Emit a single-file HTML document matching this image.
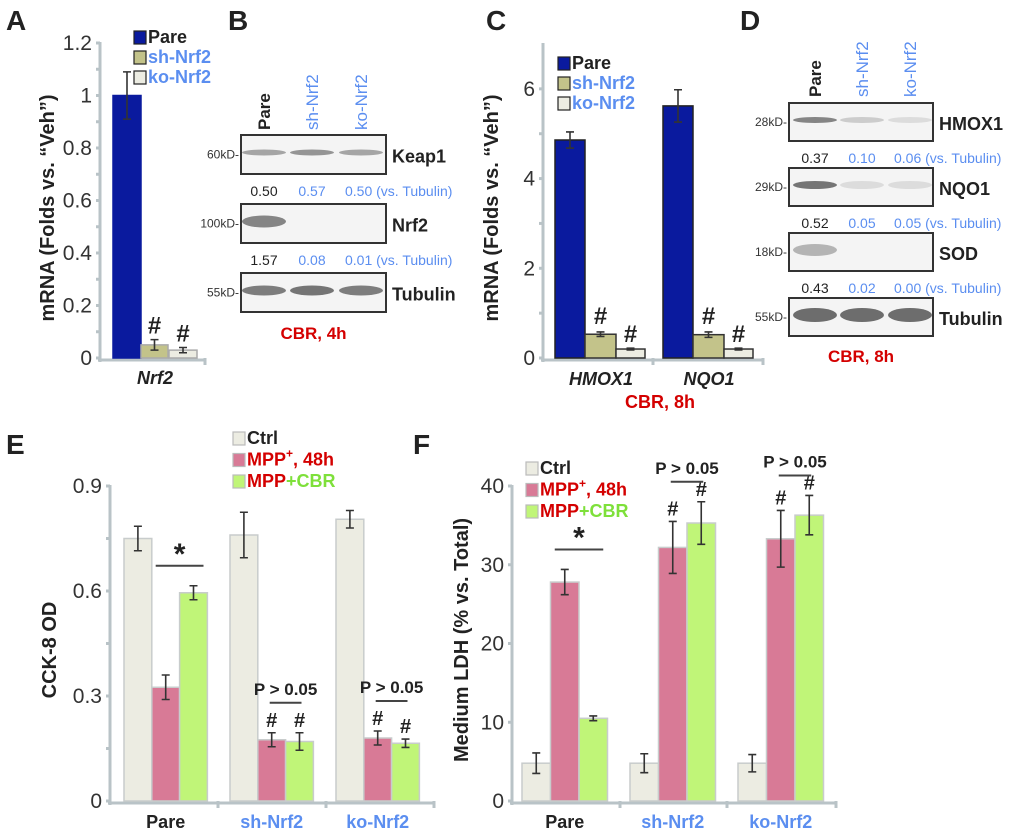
<!DOCTYPE html>
<html><head><meta charset="utf-8"><style>
html,body{margin:0;padding:0;background:#fff;}
svg{display:block;font-family:"Liberation Sans",sans-serif;}
.b{font-weight:bold}
</style></head><body>
<svg id="fig" width="1020" height="834" viewBox="0 0 1020 834">
<g id="static">
<text x="6" y="30" font-size="28" class="b" fill="#222">A</text>
<text x="228" y="30" font-size="28" class="b" fill="#222">B</text>
<text x="486" y="30" font-size="28" class="b" fill="#222">C</text>
<text x="740" y="30" font-size="28" class="b" fill="#222">D</text>
<text x="6" y="454" font-size="28" class="b" fill="#222">E</text>
<text x="413" y="454" font-size="28" class="b" fill="#222">F</text>
</g>
<g id="plots"></g>
<g id="blots"></g>
</svg>
<script>
// ---- Panel A data ----
const aCategories = ["Nrf2"];
const aPare = [1.0], aSh = [0.05], aKo = [0.03];
const aPareErr = [0.09], aShErr = [0.02], aKoErr = [0.01];
const aTicks = [0, 0.2, 0.4, 0.6, 0.8, 1, 1.2];
// ---- Panel C data ----
const cCategories = ["HMOX1", "NQO1"];
const cPare = [4.86, 5.62], cSh = [0.53, 0.52], cKo = [0.2, 0.2];
const cPareErr = [0.18, 0.36], cShErr = [0.05, 0.06], cKoErr = [0.02, 0.02];
const cTicks = [0, 2, 4, 6];
// ---- Panel E data ----
const eCategories = ["Pare", "sh-Nrf2", "ko-Nrf2"];
const eCtrl = [0.75, 0.76, 0.805], eMpp = [0.325, 0.175, 0.18], eCbr = [0.595, 0.17, 0.165];
const eCtrlErr = [0.035, 0.065, 0.025], eMppErr = [0.035, 0.02, 0.02], eCbrErr = [0.02, 0.025, 0.012];
const eTicks = ["0", "0.3", "0.6", "0.9"];
// ---- Panel F data ----
const fCategories = ["Pare", "sh-Nrf2", "ko-Nrf2"];
const fCtrl = [4.8, 4.8, 4.8], fMpp = [27.8, 32.2, 33.3], fCbr = [10.5, 35.3, 36.3];
const fCtrlErr = [1.3, 1.2, 1.1], fMppErr = [1.6, 3.3, 3.6], fCbrErr = [0.3, 2.7, 2.5];
const fTicks = [0, 10, 20, 30, 40];

const NS = "http://www.w3.org/2000/svg";
const plots = document.getElementById("plots");
function mk(tag, attrs, parent, txt) {
  const el = document.createElementNS(NS, tag);
  for (const k in attrs) el.setAttribute(k, attrs[k]);
  if (txt !== undefined) el.textContent = txt;
  (parent || plots).appendChild(el);
  return el;
}
const AX = "#b9c3c7", BLUE = "#5b8ef0", RED = "#d40000";
const catColor = c => (c === "Pare" ? "#222" : BLUE);

function axes(o) {
  const g = mk("g", {});
  
  
  const yS = v => o.y0 - (v - o.min) / (o.max - o.min) * (o.y0 - o.yTop);
  let l = mk("line", {x1: o.x0, y1: o.yTop - 1, x2: o.x0, y2: o.y0 + 4, stroke: AX, "stroke-width": 3}, g);
  
  
  l = mk("line", {x1: o.x0 - 2, y1: o.y0 + 2, x2: o.x1, y2: o.y0 + 2, stroke: AX, "stroke-width": 3}, g);
  
  
  (o.sep || []).forEach(x => mk("line", {x1: x, y1: o.y0, x2: x, y2: o.y0 + 7, stroke: AX, "stroke-width": 3}, g));
  mk("line", {x1: o.x1, y1: o.y0, x2: o.x1, y2: o.y0 + 7, stroke: AX, "stroke-width": 3}, g);
  o.ticks.forEach((t, i) => {
    const v = parseFloat(t), y = yS(v);
    mk("line", {x1: o.x0 - 4, y1: y, x2: o.x0, y2: y, stroke: AX, "stroke-width": 3}, g);
    if (o.minor && i < o.ticks.length - 1) {
      const y2 = yS(v + (parseFloat(o.ticks[1]) - parseFloat(o.ticks[0])) / 2);
      mk("line", {x1: o.x0 - 4, y1: y2, x2: o.x0, y2: y2, stroke: AX, "stroke-width": 3}, g);
    }
    const tx = mk("text", {x: o.x0 - 8, y: y + 7, "font-size": 21, "text-anchor": "end", fill: "#333"}, g, String(t));
    
    
  });
  const tt = mk("text", {x: 0, y: 0, "font-size": 20, "font-weight": "bold", fill: "#222", "text-anchor": "middle",
    transform: `translate(${o.titleX},${o.titleY}) rotate(-90)`}, g, o.title);
  
  
  return yS;
}
function bar(yS, x, w, v, e, fill, stroke, name) {
  const y = yS(v), y0 = yS(0);
  const r = mk("rect", {x: x, y: y, width: w, height: y0 - y, fill: fill, stroke: stroke, "stroke-width": 1.5});
  
  
  const cx = x + w / 2, yt = yS(v + e), yb = yS(v - e);
  const eb = mk("path", {d: `M${cx},${yt}V${yb}M${cx - 4},${yt}H${cx + 4}M${cx - 4},${yb}H${cx + 4}`, stroke: "#333", "stroke-width": 1.6, fill: "none"});
  
  
  return {cx: cx, top: yt};
}
function txt(x, y, s, size, fill, opts) {
  const a = Object.assign({x: x, y: y, "font-size": size, fill: fill}, opts || {});
  return mk("text", a, plots, s);
}
function legend(x, y, dy, items, name) {
  items.forEach((it, i) => {
    const r = mk("rect", {x: x, y: y + i * dy - 12, width: 12, height: 13, fill: it.c, stroke: it.s || "#888", "stroke-width": 1.2});
    
    
    const t = mk("text", {x: x + 14, y: y + i * dy, "font-size": 18, "font-weight": "bold", fill: it.tc});
    
    
    if (it.parts) it.parts.forEach(p => { const ts = mk("tspan", p.a || {}, t, p.t); ts.setAttribute("fill", p.f); });
    else t.textContent = it.t;
  });
}
const NAVY = "#0a1a9e", KHAKI = "#c3c38a", LIGHT = "#ecece2", PINK = "#d87a96", GREEN = "#c0f578";

// ---- Panel A ----
{
  const yS = axes({name: "panel-a", x0: 100, x1: 205, y0: 358, yTop: 43, min: 0, max: 1.2, ticks: aTicks, minor: true,
    title: "mRNA (Folds vs. \u201cVeh\u201d)", titleX: 54, titleY: 208});
  aCategories.forEach((c, i) => {
    const x = 113 + i * 100;
    bar(yS, x, 28, aPare[i], aPareErr[i], NAVY, NAVY, "bar-a-pare");
    const s = bar(yS, x + 28, 27, aSh[i], aShErr[i], KHAKI, "#aaa", "bar-a-sh");
    const k = bar(yS, x + 56, 28, aKo[i], aKoErr[i], LIGHT, "#aaa", "bar-a-ko");
    txt(s.cx, s.top - 6, "#", 24, "#222", {"text-anchor": "middle", "font-weight": "bold"});
    txt(k.cx, k.top - 6, "#", 24, "#222", {"text-anchor": "middle", "font-weight": "bold"});
    const l = txt(x + 42, 384, c, 18, "#222", {"text-anchor": "middle", "font-weight": "bold", "font-style": "italic"});
    
    
  });
  legend(134, 43, 20, [{c: NAVY, s: "#222", t: "Pare", tc: "#222"}, {c: KHAKI, s: "#222", t: "sh-Nrf2", tc: BLUE}, {c: LIGHT, s: "#222", t: "ko-Nrf2", tc: BLUE}], "legend-a");
}
// ---- Panel C ----
{
  const yS = axes({name: "panel-c", x0: 543, x1: 763, y0: 358, yTop: 44, min: 0, max: 7, ticks: cTicks, minor: true, sep: [653],
    title: "mRNA (Folds vs. \u201cVeh\u201d)", titleX: 498, titleY: 208});
  cCategories.forEach((c, i) => {
    const x = 555 + i * 108;
    bar(yS, x, 30, cPare[i], cPareErr[i], NAVY, "#222", "bar-c-pare");
    const s = bar(yS, x + 30, 31, cSh[i], cShErr[i], KHAKI, "#333", "bar-c-sh");
    const k = bar(yS, x + 61, 29, cKo[i], cKoErr[i], LIGHT, "#333", "bar-c-ko");
    txt(s.cx, s.top - 8, "#", 24, "#222", {"text-anchor": "middle", "font-weight": "bold"});
    txt(k.cx, k.top - 6, "#", 24, "#222", {"text-anchor": "middle", "font-weight": "bold"});
    const l = txt(x + 46, 385, c, 18, "#222", {"text-anchor": "middle", "font-weight": "bold", "font-style": "italic"});
    
    
  });
  txt(660, 408, "CBR, 8h", 18, RED, {"text-anchor": "middle", "font-weight": "bold"});
  legend(558, 69, 20, [{c: NAVY, s: "#222", t: "Pare", tc: "#222"}, {c: KHAKI, s: "#222", t: "sh-Nrf2", tc: BLUE}, {c: LIGHT, s: "#222", t: "ko-Nrf2", tc: BLUE}], "legend-c");
}
// ---- Panels E & F ----
function groupPanel(p) {
  const yS = axes(p.ax);
  p.cats.forEach((c, i) => {
    const x = p.x + i * p.gw;
    bar(yS, x, p.w, p.ctrl[i], p.ctrlE[i], LIGHT, "#c8cccc", "bar-ctrl");
    const m = bar(yS, x + p.w, p.w, p.mpp[i], p.mppE[i], PINK, "#c8cccc", "bar-mpp");
    const g = bar(yS, x + 2 * p.w, p.w, p.cbr[i], p.cbrE[i], GREEN, "#c8cccc", "bar-mpp-cbr");
    const l = txt(x + 1.5 * p.w, p.ax.y0 + 27, c, 18, catColor(c), {"text-anchor": "middle", "font-weight": "bold"});
    
    
    const top = Math.min(m.top, g.top);
    if (i === 0) {
      const ly = top - 20;
      mk("line", {x1: m.cx - 10, y1: ly, x2: g.cx + 10, y2: ly, stroke: "#444", "stroke-width": 2});
      txt((m.cx + g.cx) / 2, ly - 2, "*", 30, "#222", {"text-anchor": "middle", "font-weight": "bold"});
    } else {
      txt(m.cx, m.top - 6, "#", 20, "#222", {"text-anchor": "middle", "font-weight": "bold"});
      txt(g.cx, g.top - 6, "#", 20, "#222", {"text-anchor": "middle", "font-weight": "bold"});
      const ly = top - p.pOff;
      mk("line", {x1: m.cx - 2, y1: ly, x2: g.cx + 2, y2: ly, stroke: "#444", "stroke-width": 2});
      txt((m.cx + g.cx) / 2, ly - 8, "P > 0.05", 17, "#222", {"text-anchor": "middle", "font-weight": "bold"});
    }
  });
  legend(p.lx, p.ly, 21.5, [
    {c: LIGHT, s: "#bbb", t: "Ctrl", tc: "#222"},
    {c: PINK, s: "#bbb", tc: RED, parts: [{t: "MPP", f: RED}, {t: "+", f: RED, a: {dy: -8, "font-size": 12}}, {t: ", 48h", f: RED, a: {dy: 8}}]},
    {c: GREEN, s: "#bbb", tc: RED, parts: [{t: "MPP", f: RED}, {t: "+CBR", f: "#7ee03a"}]}], p.name + "-legend");
}
groupPanel({name: "panel-e", x: 124, w: 27.8, gw: 106, pOff: 30, cats: eCategories, ctrl: eCtrl, mpp: eMpp, cbr: eCbr,
  ctrlE: eCtrlErr, mppE: eMppErr, cbrE: eCbrErr, lx: 233, ly: 444,
  ax: {name: "panel-e", x0: 110, x1: 434, y0: 801, yTop: 486, min: 0, max: 0.9, ticks: eTicks, minor: true, sep: [218, 326],
    title: "CCK-8 OD", titleX: 56, titleY: 650}});
groupPanel({name: "panel-f", x: 522, w: 28.5, gw: 108, pOff: 20, cats: fCategories, ctrl: fCtrl, mpp: fMpp, cbr: fCbr,
  ctrlE: fCtrlErr, mppE: fMppErr, cbrE: fCbrErr, lx: 526, ly: 474,
  ax: {name: "panel-f", x0: 512, x1: 836, y0: 801, yTop: 486, min: 0, max: 40, ticks: fTicks, minor: false, sep: [620, 727],
    title: "Medium LDH (% vs. Total)", titleX: 468, titleY: 640}});

// ---- Blots ----
const blots = document.getElementById("blots");
function blotPanel(o) {
  const g = mk("g", {}, blots);
  
  
  o.cols.forEach((c, i) => {
    const t = mk("text", {x: 0, y: 0, "font-size": 17, "font-weight": c === "Pare" ? "bold" : "normal", fill: catColor(c),
      transform: `translate(${o.colX[i] + 6},${o.colY}) rotate(-90)`}, g, c);
    
    
  });
  o.rows.forEach((r, j) => {
    const y = o.rowY[j];
    const box = mk("rect", {x: o.x, y: y, width: o.w, height: o.h, fill: "#f4f4f4", stroke: "#333", "stroke-width": 2}, g);
    
    
    r.b.forEach((op, i) => {
      if (op > 0) mk("ellipse", {cx: o.colX[i], cy: y + o.h / 2 - 2, rx: 22, ry: r.th || 3, fill: "#555", opacity: op}, g);
    });
    mk("text", {x: o.x - 2, y: y + o.h / 2 + 4, "font-size": 12, fill: "#333", "text-anchor": "end"}, g, r.kd + "-");
    const bl = mk("text", {x: o.x + o.w + 6, y: y + o.h / 2 + 8, "font-size": 18, "font-weight": "bold", fill: "#222"}, g, r.n);
    
    
    if (r.q) r.q.forEach((q, i) => {
      mk("text", {x: o.colX[i], y: y + o.h + 22, "font-size": 14, fill: i === 0 ? "#222" : BLUE, "text-anchor": i === 2 ? "start" : "middle",
        dx: i === 2 ? -16 : 0}, g, i === 2 ? q + " (vs. Tubulin)" : q);
    });
  });
  const c = mk("text", {x: o.x + o.w / 2, y: o.capY, "font-size": 17, "font-weight": "bold", fill: RED, "text-anchor": "middle"}, g, o.cap);
  
  
}
blotPanel({name: "blot-panel-b", x: 241, w: 145, h: 39, colX: [264, 312, 361], colY: 130, cols: ["Pare", "sh-Nrf2", "ko-Nrf2"],
  rowY: [135, 204, 273], cap: "CBR, 4h", capY: 339,
  rows: [{n: "Keap1", kd: "60kD", b: [0.5, 0.6, 0.5], q: ["0.50", "0.57", "0.50"]},
         {n: "Nrf2", kd: "100kD", b: [0.7, 0, 0], th: 6, q: ["1.57", "0.08", "0.01"]},
         {n: "Tubulin", kd: "55kD", b: [0.75, 0.8, 0.75], th: 5}]});
blotPanel({name: "blot-panel-d", x: 789, w: 144, h: 38, colX: [815, 862, 910], colY: 97, cols: ["Pare", "sh-Nrf2", "ko-Nrf2"],
  rowY: [103, 168, 233, 298], cap: "CBR, 8h", capY: 362,
  rows: [{n: "HMOX1", kd: "28kD", b: [0.7, 0.25, 0.15], q: ["0.37", "0.10", "0.06"]},
         {n: "NQO1", kd: "29kD", b: [0.8, 0.15, 0.15], th: 4, q: ["0.52", "0.05", "0.05"]},
         {n: "SOD", kd: "18kD", b: [0.4, 0, 0], th: 6, q: ["0.43", "0.02", "0.00"]},
         {n: "Tubulin", kd: "55kD", b: [0.85, 0.85, 0.85], th: 7}]});
</script>
</body></html>
